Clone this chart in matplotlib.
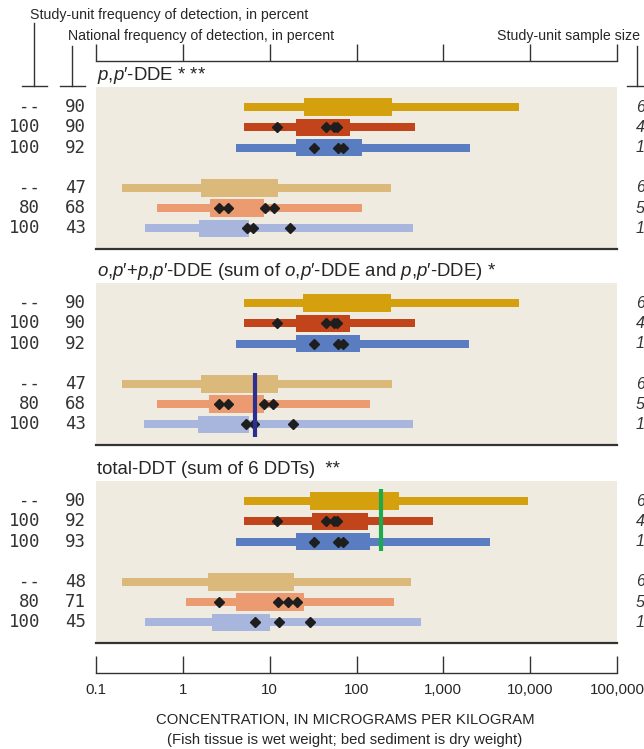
import matplotlib
matplotlib.use("Agg")
import matplotlib.pyplot as plt

# ---------------- data ----------------
row_colors = ["#D5A00E", "#C1441A", "#5A7DC2", "#DBB97A", "#EC9B70", "#A8B6DE"]
row_pos = [0, 1, 2, 4, 5, 6]

titles = [
    r"$\mathit{p{,}p\prime}$-DDE * **",
    r"$\mathit{o{,}p\prime}$+$\mathit{p{,}p\prime}$-DDE (sum of $\mathit{o{,}p\prime}$-DDE and $\mathit{p{,}p\prime}$-DDE) *",
    "total-DDT (sum of 6 DDTs)  **",
]

study_freq = [["--", "100", "100", "--", "80", "100"],
              ["--", "100", "100", "--", "80", "100"],
              ["--", "100", "100", "--", "80", "100"]]
nat_freq = [["90", "90", "92", "47", "68", "43"],
            ["90", "90", "92", "47", "68", "43"],
            ["90", "92", "93", "48", "71", "45"]]
sample_size = [["60", "41", "13", "60", "52", "13"],
               ["60", "41", "13", "60", "52", "13"],
               ["60", "41", "13", "60", "52", "13"]]

wlo1 = [5.1, 5.1, 4.1, 0.20, 0.51, 0.37]
whi1 = [7500, 470, 2030, 250, 115, 450]
blo1 = [24.6, 20, 20, 1.64, 2.04, 1.53]
bhi1 = [254, 84, 115, 12.4, 8.6, 5.8]
dia1 = [[], [12.1, 45, 55, 60], [32, 61, 70], [], [2.64, 3.35, 8.8, 11.2], [5.5, 6.5, 17.3]]

wlo2 = [5.1, 5.1, 4.1, 0.20, 0.50, 0.36]
whi2 = [7500, 470, 2000, 255, 142, 450]
blo2 = [24, 20, 20, 1.6, 2.0, 1.5]
bhi2 = [250, 84, 111, 12.4, 8.6, 5.8]
dia2 = [[], [12.1, 45, 55, 60], [32, 61, 70], [], [2.64, 3.35, 8.6, 11], [5.4, 6.6, 18.5]]

wlo3 = [5.1, 5.1, 4.1, 0.20, 1.09, 0.37]
whi3 = [9500, 760, 3460, 420, 270, 560]
blo3 = [29, 30.5, 20, 1.97, 4.1, 2.19]
bhi3 = [310, 135, 143, 18.9, 24.6, 10.2]
dia3 = [[], [12.1, 45, 55, 60], [32, 61, 70], [], [2.64, 12.5, 16.3, 20.4], [6.7, 12.7, 28.9]]

ref_value = [None, 6.7, 190]
ref_color = [None, "#2B2F8F", "#1DAA4F"]
ref_span = [None, (3.45, 6.62), (-0.62, 2.48)]

tick_vals = [0.1, 1, 10, 100, 1000, 10000, 100000]
tick_labels = ["0.1", "1", "10", "100", "1,000", "10,000", "100,000"]

panels = [(wlo1, whi1, blo1, bhi1, dia1),
          (wlo2, whi2, blo2, bhi2, dia2),
          (wlo3, whi3, blo3, bhi3, dia3)]

# ---------------- figure ----------------
plt.rcParams["font.family"] = ["Liberation Sans", "DejaVu Sans"]
plt.rcParams["mathtext.fontset"] = "custom"
plt.rcParams["mathtext.it"] = "Liberation Sans:italic"
plt.rcParams["mathtext.rm"] = "Liberation Sans"

W, H = 644, 749
fig = plt.figure(figsize=(W / 100, H / 100), dpi=100)
fig.patch.set_facecolor("white")

def fx(x):
    return x / W

def fy(y):
    return 1 - y / H

X0, X1 = 96, 617
panel_tops = [87, 283, 481]
PH = 161.6
bg = "#F0EBE1"
mono = "DejaVu Sans Mono"
txt = "#262626"

for p, (wlo, whi, blo, bhi, dia) in enumerate(panels):
    top = panel_tops[p]
    ax = fig.add_axes([fx(X0), fy(top + PH), fx(X1) - fx(X0), PH / H])
    ax.set_xscale("log")
    ax.set_xlim(0.1, 1e5)
    ax.set_ylim(7, -1)
    ax.set_facecolor(bg)
    for s in ["top", "left", "right"]:
        ax.spines[s].set_visible(False)
    ax.spines["bottom"].set_color("#333333")
    ax.spines["bottom"].set_linewidth(1.6)
    ax.set_xticks([])
    ax.set_xticks([], minor=True)
    ax.set_yticks([])
    for i, y in enumerate(row_pos):
        c = row_colors[i]
        ax.barh(y, whi[i] - wlo[i], left=wlo[i], height=0.40, color=c, linewidth=0, zorder=2)
        ax.barh(y, bhi[i] - blo[i], left=blo[i], height=0.87, color=c, linewidth=0, zorder=3)
        if dia[i]:
            ax.plot(dia[i], [y] * len(dia[i]), linestyle="none", marker="D",
                    markersize=5.5, color="#1E1E1E", zorder=5)
    if ref_value[p] is not None:
        y0, y1 = ref_span[p]
        ax.plot([ref_value[p], ref_value[p]], [y0, y1], color=ref_color[p],
                linewidth=3, zorder=6, solid_capstyle="butt")

    # title
    fig.text(fx(97), fy(top - 11), titles[p], fontsize=13.4, ha="left", va="center",
             color=txt)

    # left / right numbers
    for i, y in enumerate(row_pos):
        ypx = top + 20.2 * (y + 1)
        fig.text(fx(40), fy(ypx), study_freq[p][i], fontsize=12.5, family=mono,
                 ha="right", va="center", color="#333333")
        fig.text(fx(86), fy(ypx), nat_freq[p][i], fontsize=12.5, family=mono,
                 ha="right", va="center", color="#333333")
        fig.text(fx(636), fy(ypx), sample_size[p][i], fontsize=11.5, style="italic",
                 ha="left", va="center", color="#333333")

# ---------------- scale axes ----------------
def scale_axis(ybase, labels):
    ax = fig.add_axes([fx(X0), fy(ybase), fx(X1) - fx(X0), 12 / H])
    ax.set_xscale("log")
    ax.set_xlim(0.1, 1e5)
    ax.set_ylim(0, 1)
    ax.patch.set_alpha(0)
    for s in ["top", "left", "right"]:
        ax.spines[s].set_visible(False)
    ax.spines["bottom"].set_color("#333333")
    ax.spines["bottom"].set_linewidth(1.0)
    ax.set_yticks([])
    ax.set_xticks(tick_vals)
    ax.set_xticks([], minor=True)
    ax.tick_params(axis="x", direction="in", length=12, width=1.0, color="#333333",
                   pad=7, labelsize=10.8, labelcolor=txt)
    if labels:
        ax.set_xticklabels(tick_labels)
    else:
        ax.set_xticklabels([])
    return ax

scale_axis(61, False)
scale_axis(673, True)

fig.text(fx(345), fy(720), "CONCENTRATION, IN MICROGRAMS PER KILOGRAM",
         ha="center", va="center", fontsize=10.7, color=txt)
fig.text(fx(345), fy(740), "(Fish tissue is wet weight; bed sediment is dry weight)",
         ha="center", va="center", fontsize=10.7, color=txt)

# ---------------- header texts & brackets ----------------
fig.text(fx(30), fy(15), "Study-unit frequency of detection, in percent", fontsize=10.2,
         ha="left", va="center", color=txt)
fig.text(fx(68), fy(36), "National frequency of detection, in percent", fontsize=10.2,
         ha="left", va="center", color=txt)
fig.text(fx(497), fy(36), "Study-unit sample size", fontsize=10.2,
         ha="left", va="center", color=txt)

def line(xs, ys):
    fig.add_artist(plt.Line2D([fx(x) for x in xs], [fy(y) for y in ys],
                              color="#333333", linewidth=1.0))

line([34, 34], [23, 86])
line([22, 47], [86, 86])
line([72, 72], [46, 86])
line([60, 85], [86, 86])
line([637, 637], [46, 86])
line([627, 647], [86, 86])

fig.savefig("out.png", dpi=100)
